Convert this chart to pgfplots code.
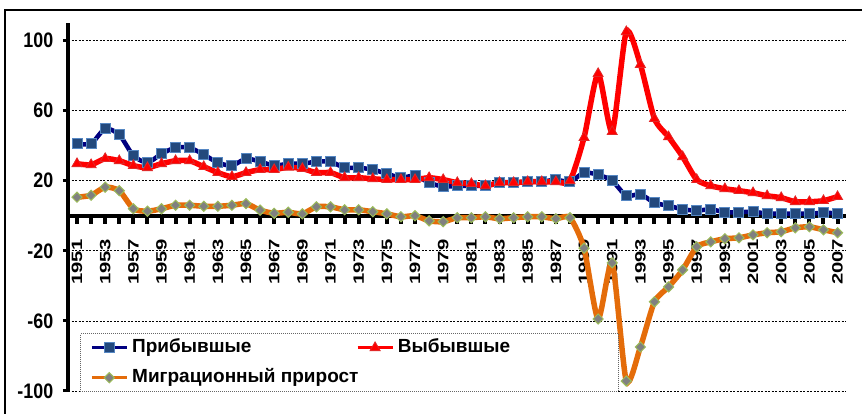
\documentclass[border=0pt]{standalone}
\usepackage{fontspec}
\setmainfont{Liberation Sans}
\newfontfamily\condfont[FakeStretch=0.85]{Liberation Sans Bold}
\newfontfamily\widefont[FakeStretch=1.35]{Liberation Sans Bold}
\usepackage{pgfplots}
\usepackage{pgfplotstable}
\pgfplotsset{compat=1.18}
\newcommand\yr[1]{#1\rule{16pt}{0pt}}
\definecolor{navyline}{RGB}{0,0,128}
\definecolor{sqfill}{RGB}{35,73,125}
\definecolor{sqedge}{RGB}{85,135,195}
\definecolor{redline}{RGB}{255,0,0}
\definecolor{tridraw}{RGB}{225,40,40}
\definecolor{orangeline}{RGB}{228,108,10}
\definecolor{dmfill}{RGB}{128,128,128}
\definecolor{dmedge}{RGB}{155,187,89}
\pgfplotstableread{
i arr dep mig
0 41.1 29.7 10.6
1 41.1 29.1 11.7
2 49.7 32.6 16.3
3 46.3 31.4 14.3
4 34.3 28.6 4.0
5 30.3 27.4 2.6
6 35.4 29.7 4.0
7 38.9 31.4 6.0
8 38.9 31.4 6.0
9 34.9 28.0 5.4
10 30.3 24.6 5.4
11 28.6 22.3 6.0
12 32.6 24.6 6.9
13 30.9 26.3 3.2
14 28.6 26.3 1.4
15 29.7 27.7 2.0
16 29.7 26.9 1.1
17 30.9 24.6 5.1
18 30.9 24.6 5.1
19 27.4 21.7 3.4
20 27.4 21.7 3.4
21 26.3 21.1 2.3
22 24.0 20.6 1.1
23 21.7 20.6 -0.6
24 22.9 20.6 0.0
25 18.9 21.7 -2.9
26 16.6 20.6 -3.4
27 17.1 18.9 -1.1
28 17.1 18.3 -1.1
29 17.1 17.1 -0.6
30 18.9 18.9 -1.7
31 18.9 18.9 -1.1
32 19.4 19.4 -0.6
33 19.4 19.4 -0.6
34 20.6 19.4 -1.7
35 19.4 20.0 -1.1
36 24.6 44.6 -18.5
37 23.4 81.1 -58.9
38 20.0 48.0 -26.9
39 11.4 105.0 -94.3
40 12.3 86.3 -74.9
41 7.4 55.4 -49.1
42 5.7 45.0 -40.6
43 3.7 33.7 -30.9
44 2.9 20.6 -17.7
45 3.7 17.1 -14.9
46 2.0 15.4 -13.1
47 2.0 14.3 -12.6
48 2.3 13.1 -10.9
49 1.2 11.4 -9.7
50 1.2 10.3 -9.1
51 1.2 8.0 -6.9
52 1.2 8.0 -6.3
53 1.7 8.6 -8.0
54 1.4 10.9 -9.7
}\data
\begin{document}
\begin{tikzpicture}
\useasboundingbox (0,0) rectangle (862pt,414pt);
\draw[line width=1.2pt] (5pt,0pt) -- (5pt,404pt) -- (862pt,404pt);
\begin{axis}[
 at={(68pt,23pt)}, anchor=south west,
 scale only axis, width=778pt, height=368pt,
 xmin=-0.64, xmax=54.6, ymin=-100, ymax=110,
 axis x line=middle, axis y line=left,
 x axis line style={-, line width=4.5pt, black},
 y axis line style={-, line width=4pt, black},
 xtick={0,...,54},
 xticklabels={\yr{1951},,\yr{1953},,\yr{1957},,\yr{1959},,\yr{1961},,\yr{1963},,\yr{1965},,\yr{1967},,\yr{1969},,\yr{1971},,\yr{1973},,\yr{1975},,\yr{1977},,\yr{1979},,\yr{1981},,\yr{1983},,\yr{1985},,\yr{1987},,\yr{1989},,\yr{1991},,\yr{1993},,\yr{1995},,\yr{1997},,\yr{1999},,\yr{2001},,\yr{2003},,\yr{2005},,\yr{2007}},
 ytick={-100,-60,-20,20,60,100},
 yticklabels={-100,-60,-20,20,60,100},
 tick align=outside,
 xtick style={line width=4pt, black, /pgfplots/major tick length=8pt},
 ytick style={line width=3pt, black, /pgfplots/major tick length=5pt},
 ymajorgrids,
 grid style={black, line width=0.7pt, dash pattern=on 2pt off 1.5pt},
 yticklabel style={font=\condfont\fontsize{21}{21}\selectfont},
 yticklabel shift=7pt,
 xticklabel style={font=\widefont\fontsize{15}{15}\selectfont, rotate=90, anchor=east},
 legend columns=2,
 legend style={at={(axis description cs:0.0154,-0.003)}, anchor=south west,
   draw=black!60, dash pattern=on 1pt off 1pt, line width=0.8pt, fill=white,
   inner xsep=10pt, inner ysep=3pt,
   font=\bfseries\fontsize{19}{19}\selectfont,
   row sep=8pt,
   /tikz/every even column/.append style={column sep=14pt},
   nodes={inner sep=2pt, inner xsep=4pt, text height=14pt, text depth=4pt}},
 legend image code/.code={\draw[mark repeat=2, mark phase=2, solid, line width=2.8pt] plot coordinates {(0pt,0pt) (17.5pt,0pt) (35pt,0pt)};},
]
\addplot[navyline, solid, line width=4.5pt, smooth, tension=0.4, mark=square*, mark size=5pt,
  mark options={fill=sqfill, draw=sqedge, line width=1pt, solid}] table[x=i,y=arr]{\data};
\addlegendentry{\makebox[206pt][l]{Прибывшые}}
\addplot[redline, solid, line width=5.5pt, smooth, tension=0.4, mark=triangle*, mark size=5.8pt,
  mark options={fill=red, draw=tridraw, line width=0.8pt, solid}] table[x=i,y=dep]{\data};
\addlegendentry{\makebox[206pt][l]{Выбывшые}}
\addplot[orangeline, solid, line width=5.5pt, smooth, tension=0.4, mark=square*, mark size=3.6pt,
  mark options={rotate=45, fill=dmfill, draw=dmedge, line width=1pt, solid}] table[x=i,y=mig]{\data};
\addlegendentry{\makebox[206pt][l]{Миграционный прирост}}
\end{axis}
\end{tikzpicture}
\end{document}
